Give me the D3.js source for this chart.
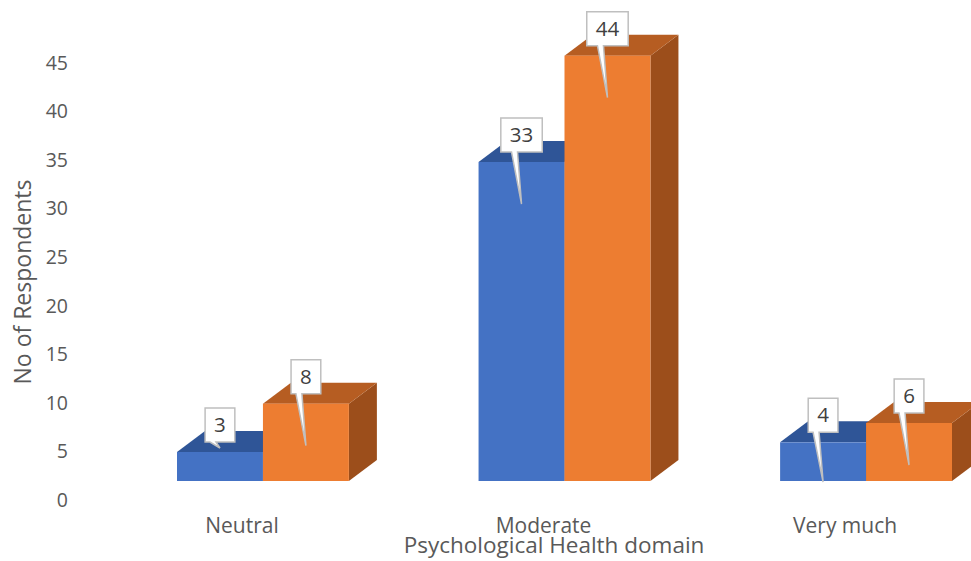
<!DOCTYPE html>
<html>
<head>
<meta charset="utf-8">
<script src="https://cdn.jsdelivr.net/npm/d3@7"></script>
<style>
  html, body { margin: 0; padding: 0; background: #ffffff; }
  svg { display: block; font-family: "Open Sans", "Noto Sans", sans-serif; }
</style>
</head>
<body>
<svg id="chart" width="971" height="561"></svg>
<script>
// Respondent counts per level of the psychological health domain
const categories = ["Neutral", "Moderate", "Very much"];
const seriesNames = ["Series 1", "Series 2"];
const series1 = [3, 33, 4];
const series2 = [8, 44, 6];
const yTicks = [0, 5, 10, 15, 20, 25, 30, 35, 40, 45];

const svg = d3.select("#chart");

// faces of each 3-D column: front, top, side
const palette = [
  { front: "#4472c4", top: "#2f5597", side: "#2b4f8c" },
  { front: "#ed7d31", top: "#b65d22", side: "#9c4e1b" }
];
const depth = { dx: 28, dy: -21 };

// the value axis labels sit on the back wall, the columns stand on the front floor
const yAxisScale = d3.scaleLinear().domain([0, 45]).range([500, 63]);
const yFront = d3.scaleLinear().domain([0, 45]).range([481, 46]);

const x = d3.scaleBand().domain(categories).range([177, 952]).paddingInner(0.43).paddingOuter(0);
const xs = d3.scaleBand().domain(seriesNames).range([0, x.bandwidth()]);

// value axis (labels only)
const yAxis = d3.axisLeft(yAxisScale).tickValues(yTicks).tickSize(0).tickPadding(0);
const gy = svg.append("g").attr("transform", "translate(68,0)").call(yAxis);
gy.select(".domain").remove();
gy.selectAll("text")
  .attr("fill", "#595959")
  .style("font-size", "19.5px")
  .style("font-family", "'Open Sans', sans-serif");

// axis titles
svg.append("text")
  .attr("transform", "translate(31,282) rotate(-90)")
  .attr("text-anchor", "middle")
  .attr("fill", "#595959")
  .style("font-size", "23px")
  .text("No of Respondents");

svg.append("text")
  .attr("x", 554).attr("y", 553)
  .attr("text-anchor", "middle")
  .attr("fill", "#595959")
  .style("font-size", "22.5px")
  .text("Psychological Health domain");

// category labels, shifted toward the viewer like the floor
svg.selectAll(".cat")
  .data(categories)
  .join("text")
  .attr("class", "cat")
  .attr("x", d => x(d) + x.bandwidth() / 2 - 21)
  .attr("y", 533)
  .attr("text-anchor", "middle")
  .attr("fill", "#595959")
  .style("font-size", "21px")
  .text(d => d);

// columns
const rows = [];
categories.forEach((c, i) => {
  [series1, series2].forEach((s, k) => {
    rows.push({ cat: c, k, value: s[i], name: seriesNames[k] });
  });
});

const base = yFront(0);
const bars = svg.append("g");
rows.forEach(r => {
  const x0 = x(r.cat) + xs(r.name);
  const w = xs.bandwidth();
  const yt = yFront(r.value);
  const col = palette[r.k];
  const g = bars.append("g");
  // right side face
  g.append("path")
    .attr("d", `M${x0 + w},${yt} L${x0 + w + depth.dx},${yt + depth.dy} L${x0 + w + depth.dx},${base + depth.dy} L${x0 + w},${base} Z`)
    .attr("fill", col.side);
  // top face
  g.append("path")
    .attr("d", `M${x0},${yt} L${x0 + depth.dx},${yt + depth.dy} L${x0 + w + depth.dx},${yt + depth.dy} L${x0 + w},${yt} Z`)
    .attr("fill", col.top);
  // front face
  g.append("rect")
    .attr("x", x0).attr("y", yt)
    .attr("width", w).attr("height", base - yt)
    .attr("fill", col.front);
});

// callout data labels
const labels = svg.append("g");
rows.forEach(r => {
  const cx = x(r.cat) + xs(r.name) + xs.bandwidth() / 2;
  const yt = yFront(r.value);
  const g = labels.append("g");
  const path = g.append("path");
  const t = g.append("text")
    .attr("x", cx)
    .attr("text-anchor", "middle")
    .attr("fill", "#404040")
    .style("font-size", "20.5px")
    .text(r.value);
  const tw = t.node().getComputedTextLength();
  const bw = tw + 18, bh = 34;
  const bottom = yt - 10;
  const top = bottom - bh;
  let tip = bottom + 52;
  // keep the pointer from running past the floor
  if (tip > base + 5) tip = bottom + 6;
  tip = Math.min(tip, base + 1);
  const l = cx - bw / 2, rr = cx + bw / 2;
  path.attr("d", `M${l},${top} H${rr} V${bottom} H${cx - 4} L${cx},${tip} L${cx - 10},${bottom} H${l} Z`)
    .attr("fill", "#ffffff")
    .attr("stroke", "#bfbfbf")
    .attr("stroke-width", 1.5)
    .attr("stroke-linejoin", "miter");
  t.attr("y", top + bh / 2 + 7);
});
</script>
</body>
</html>
